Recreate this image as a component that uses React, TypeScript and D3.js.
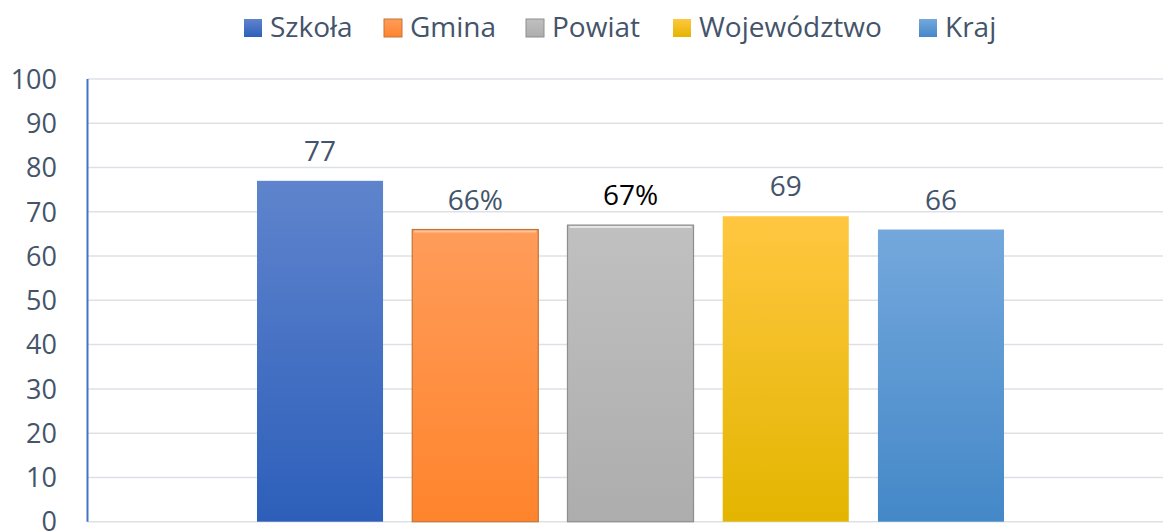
import React from "react";
import * as d3 from "d3";

const series = ["Szkoła", "Gmina", "Powiat", "Województwo", "Kraj"];
const values = [77, 66, 67, 69, 66];
const valueLabels = ["77", "66%", "67%", "69", "66"];
const yTicks = [0, 10, 20, 30, 40, 50, 60, 70, 80, 90, 100];
const gradTop = ["#5F84CD", "#FF9C5A", "#C0C0C0", "#FFC740", "#74A8DC"];
const gradBottom = ["#2D5FBA", "#FF842C", "#ADADAD", "#E3B500", "#4488C8"];
const strokes = ["none", "#C0763A", "#8E8E8E", "none", "none"];
const highlights = ["none", "#FFC29A", "#E6E6E6", "none", "none"];
const labelColors = ["#44546A", "#44546A", "#000000", "#44546A", "#44546A"];
const legendX = [244, 384, 526, 673, 919];

const W = 1163;
const H = 531;
const FONT = "'Open Sans', 'Segoe UI', sans-serif";

export default function App() {
  const y = d3.scaleLinear().domain([0, 100]).range([521.7, 79]);
  const x = d3
    .scaleBand<string>()
    .domain(series)
    .range([242.4, 1018.6])
    .paddingInner(0.188)
    .paddingOuter(0.094);
  const axisX = 87.5;

  return (
    <svg
      width={W}
      height={H}
      style={{ position: "absolute", left: 0, top: 0, background: "#fff" }}
      fontFamily={FONT}
    >
      <defs>
        {series.map((s, i) => (
          <linearGradient key={s} id={`g${i}`} x1="0" y1="0" x2="0" y2="1">
            <stop offset="0%" stopColor={gradTop[i]} />
            <stop offset="100%" stopColor={gradBottom[i]} />
          </linearGradient>
        ))}
      </defs>
      {yTicks.map((t) => (
        <line
          key={t}
          x1={axisX}
          x2={W}
          y1={y(t)}
          y2={y(t)}
          stroke="#DDE1E6"
          strokeWidth={1.5}
        />
      ))}
      {yTicks.map((t) => (
        <text
          key={t}
          x={57}
          y={y(t)}
          dy="0.36em"
          textAnchor="end"
          fontSize={27}
          fill="#44546A"
        >
          {t}
        </text>
      ))}
      <line
        x1={axisX}
        x2={axisX}
        y1={y(100)}
        y2={y(0)}
        stroke="#4472C4"
        strokeWidth={2}
      />
      {series.map((s, i) => {
        const bx = x(s) as number;
        const by = y(values[i]);
        const bw = x.bandwidth();
        const bh = y(0) - by;
        return (
          <g key={s}>
            <rect
              x={bx}
              y={by}
              width={bw}
              height={bh}
              fill={`url(#g${i})`}
              stroke={strokes[i]}
              strokeWidth={strokes[i] === "none" ? 0 : 1.2}
            />
            {highlights[i] !== "none" && (
              <line
                x1={bx + 2}
                x2={bx + bw - 2}
                y1={by + 2}
                y2={by + 2}
                stroke={highlights[i]}
                strokeWidth={2}
              />
            )}
          </g>
        );
      })}
      {series.map((s, i) => (
        <text
          key={s}
          x={(x(s) as number) + x.bandwidth() / 2}
          y={y(values[i]) - 20}
          textAnchor="middle"
          fontSize={28}
          fill={labelColors[i]}
        >
          {valueLabels[i]}
        </text>
      ))}
      {series.map((s, i) => (
        <g key={s}>
          <rect
            x={legendX[i]}
            y={19}
            width={18}
            height={18}
            fill={`url(#g${i})`}
            stroke={strokes[i]}
            strokeWidth={strokes[i] === "none" ? 0 : 1}
          />
          <text x={legendX[i] + 26} y={37} fontSize={28} fill="#44546A">
            {s}
          </text>
        </g>
      ))}
    </svg>
  );
}
